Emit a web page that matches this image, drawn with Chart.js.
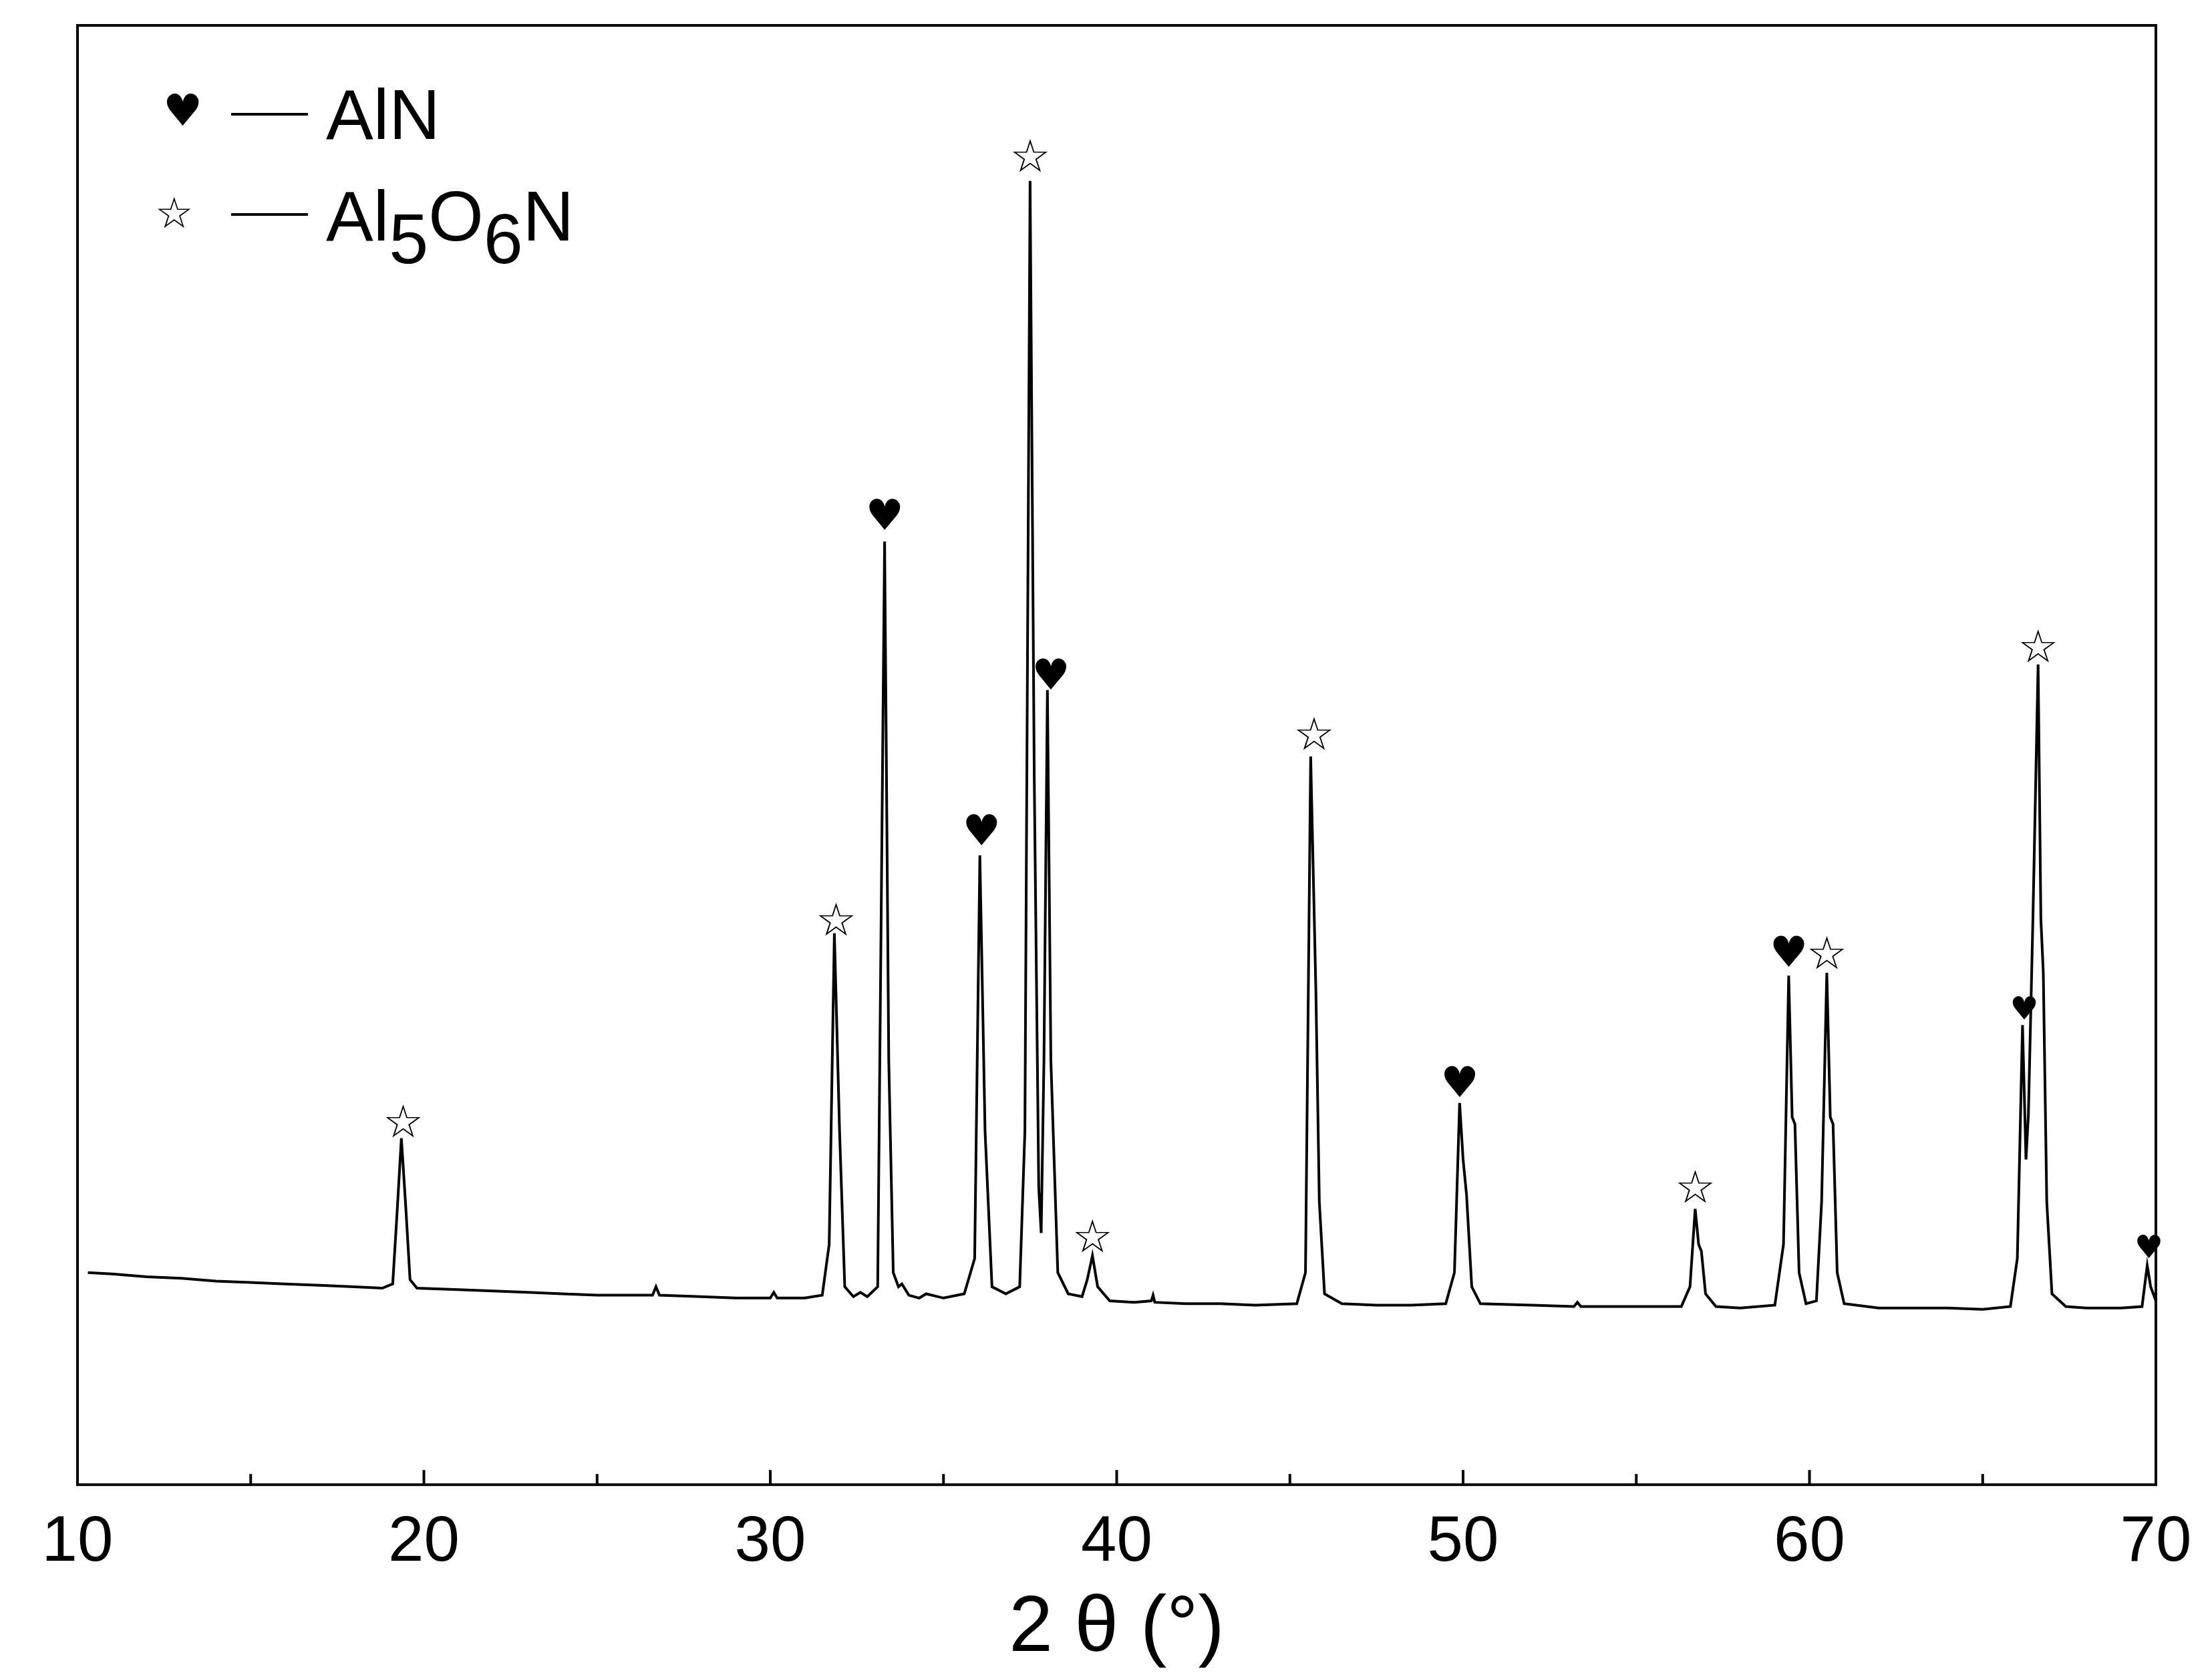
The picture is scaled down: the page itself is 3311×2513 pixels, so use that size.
<!DOCTYPE html>
<html><head><meta charset="utf-8">
<script src="https://cdn.jsdelivr.net/npm/chart.js@4"></script>
<style>html,body{margin:0;padding:0;background:#fff}#wrap{width:3311px;height:2513px}</style>
</head><body><div id="wrap"><canvas id="c"></canvas></div>
<script>
const twoTheta=[10.3,11,12,13,14,15,16,17,18,18.8,19.1,19.22,19.35,19.48,19.6,19.8,21,22,23,24,25,26,26.6,26.7,26.8,28,29,30,30.1,30.2,31,31.5,31.7,31.85,32.0,32.15,32.4,32.6,32.8,33.1,33.2,33.3,33.42,33.55,33.7,33.8,34.0,34.3,34.5,35,35.6,35.9,36.05,36.2,36.4,36.8,37.2,37.35,37.5,37.62,37.75,37.82,37.9,38.0,38.1,38.3,38.6,39.0,39.15,39.3,39.45,39.8,40.5,41,41.05,41.1,42,43,44,45.2,45.45,45.6,45.75,45.85,46.0,46.5,47.5,48.5,49.5,49.75,49.9,50.0,50.1,50.25,50.5,52,53.2,53.3,53.4,54,55,56.3,56.55,56.7,56.8,56.88,57.0,57.3,58,59.0,59.25,59.4,59.5,59.58,59.7,59.9,60.2,60.35,60.5,60.6,60.68,60.8,61.0,62,63,64,65,65.8,66.0,66.15,66.25,66.32,66.45,66.6,66.68,66.75,66.85,67.0,67.4,68,69,69.6,69.75,69.85,70];
const intensity=[150,149,147,146,144,143,142,141,140,139,142,190,245,195,145,139,138,137,136,135,134,134,134,140,134,133,132,132,136,132,132,134,170,390,250,140,133,136,133,140,400,667,300,150,140,142,134,132,135,132,135,160,445,250,140,135,140,250,922,500,210,178,300,562,300,150,135,133,145,162,140,130,129,130,134,129,128,128,127,128,150,515,350,200,135,128,127,127,128,150,270,230,205,140,128,127,126,129,126,126,126,126,140,195,170,165,135,126,125,127,170,360,260,255,150,128,130,200,362,260,255,150,128,125,125,125,124,126,160,325,230,262,400,580,400,362,200,135,126,125,125,126,155,140,130];
const xTicks=[10,20,30,40,50,60,70];
const markerX=[19.4,31.9,37.5,39.3,45.7,56.7,60.5,66.6,33.3,36.1,38.1,49.9,59.4,66.2,69.8];
const markerY=[254,397,937,173,528,208,373,590,683,460,570,282,374,335,166];
const markerType=['star','star','star','star','star','star','star','star','heart','heart','heart','heart','heart','heart','heart'];
const markerSmall=[false,false,false,false,false,false,false,false,false,false,false,false,false,true,true];

const pts=twoTheta.map((x,i)=>({x,y:intensity[i]}));
const F='"Liberation Sans", Arial, sans-serif';
const deco={id:'deco',afterDatasetsDraw(ch){
  const {ctx,chartArea:a,scales:{x,y}}=ch;
  ctx.save();
  ctx.strokeStyle='#000';ctx.lineWidth=4;
  ctx.strokeRect(a.left,a.top,a.right-a.left,a.bottom-a.top);
  for(let v=10;v<=70;v+=5){const px=x.getPixelForValue(v);ctx.beginPath();ctx.moveTo(px,a.bottom);ctx.lineTo(px,a.bottom-(v%10===0?22:16));ctx.stroke();}
  ctx.fillStyle='#000';ctx.textAlign='center';ctx.textBaseline='middle';
  markerX.forEach((mx,i)=>{
    const px=x.getPixelForValue(mx),py=y.getPixelForValue(markerY[i]);
    if(markerType[i]==='heart'){ctx.font=(markerSmall[i]?48:64)+'px "DejaVu Sans"';ctx.fillText('\u2665',px,py);}
    else{ctx.font='bold 68px "DejaVu Sans"';ctx.fillText('\u2606',px,py);}
  });
  const lx=a.left, ly=a.top;
  ctx.textAlign='left';
  ctx.font='66px "DejaVu Sans"';ctx.fillText('\u2665',lx+128,ly+133);
  ctx.font='bold 64px "DejaVu Sans"';ctx.fillText('\u2606',lx+116,ly+286);
  ctx.lineWidth=4;
  ctx.beginPath();ctx.moveTo(lx+230,ly+133);ctx.lineTo(lx+345,ly+133);ctx.stroke();
  ctx.beginPath();ctx.moveTo(lx+230,ly+283);ctx.lineTo(lx+345,ly+283);ctx.stroke();
  ctx.font='106px '+F;ctx.textBaseline='alphabetic';
  ctx.fillText('AlN',lx+372,ly+170);
  let t=lx+372;ctx.fillText('Al',t,ly+322);t+=ctx.measureText('Al').width;
  ctx.fillText('5',t,ly+356);t+=ctx.measureText('5').width;
  ctx.fillText('O',t,ly+322);t+=ctx.measureText('O').width;
  ctx.fillText('6',t,ly+356);t+=ctx.measureText('6').width;
  ctx.fillText('N',t,ly+322);
  ctx.restore();
}};
new Chart(document.getElementById('c'),{
  type:'line',
  data:{datasets:[{data:pts,borderColor:'#000',borderWidth:4,pointRadius:0,tension:0}]},
  options:{responsive:true,maintainAspectRatio:false,animation:false,
    layout:{padding:{left:116,right:84,top:38,bottom:4}},
    plugins:{legend:{display:false},tooltip:{enabled:false}},
    scales:{
      x:{type:'linear',min:10,max:70,grid:{display:false},border:{display:false},
        afterBuildTicks(s){s.ticks=xTicks.map(v=>({value:v}));},
        ticks:{color:'#000',font:{size:96,family:F},padding:22,maxRotation:0},
        title:{display:true,text:'2 θ (°)',color:'#000',font:{size:118,family:F},padding:{top:-22,bottom:0}}},
      y:{display:false,min:0,max:1032}
    }}
  ,plugins:[deco]});
</script></body></html>
